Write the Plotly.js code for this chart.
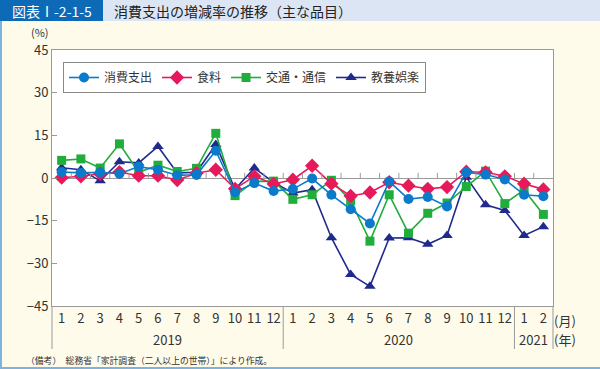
<!DOCTYPE html>
<html>
<head>
<meta charset="utf-8">
<script src="https://cdn.plot.ly/plotly-3.0.1.min.js"></script>
<style>
html,body{margin:0;padding:0;background:#fefbea;}
#chart{width:600px;height:369px;}
</style>
</head>
<body>
<div id="chart"></div>
<script>
// ---- data ----
const months = ['1','2','3','4','5','6','7','8','9','10','11','12','1','2','3','4','5','6','7','8','9','10','11','12','1','2'];
const years = ['2019','2020','2021'];
const yearStart = [0, 12, 24];
const yearEnd = [11, 23, 25];
const seriesNames = ['消費支出','食料','交通・通信','教養娯楽'];
const consumption = [2.1, 1.8, 2.0, 1.5, 4.0, 2.9, 1.0, 1.1, 9.6, -5.0, -1.8, -4.6, -3.9, -0.2, -5.9, -11.0, -16.0, -1.2, -7.4, -6.7, -10.0, 2.0, 1.2, -0.5, -5.9, -6.4];
const food = [0.1, 0.6, 1.5, 2.1, 0.8, 0.8, -0.7, 1.7, 2.9, -3.8, 0.6, -2.1, -0.6, 4.3, -2.0, -6.3, -5.1, -1.5, -2.7, -3.8, -3.2, 2.2, 2.0, 0.6, -2.0, -4.0];
const transport = [6.2, 6.7, 3.5, 12.0, 2.0, 4.5, 2.3, 3.4, 15.7, -6.2, -1.2, -1.1, -7.5, -5.9, -0.8, -8.0, -22.2, -5.9, -19.4, -12.4, -8.8, -3.0, 2.4, -9.0, -4.2, -12.8];
const culture = [3.6, 2.9, -1.0, 5.7, 5.3, 11.1, 1.8, 2.0, 11.8, -4.0, 3.5, -1.5, -5.3, -4.1, -21.0, -33.9, -38.1, -21.1, -21.0, -23.3, -20.2, 0.3, -9.4, -11.4, -20.2, -17.1];

// ---- layout helpers ----
const W = 600, H = 369, ML = 52, MR = 47, MT = 50, MB = 63;
const PW = W - ML - MR, PH = H - MT - MB;
const X = px => (px - ML) / PW;
const Y = py => (H - MB - py) / PH;
const FONT = '"Noto Sans CJK JP", "Noto Sans", sans-serif';
const idx = months.map((m, i) => i);

const colors = {c:'#0b7acb', f:'#e61a5b', t:'#20ad3b', u:'#1f2a8c'};

function tr(name, y, color, symbol, size, rank){
  return {x: idx, y: y, name: name, type:'scatter', mode:'lines+markers',
    line:{color:color, width:1.6},
    marker:{color:color, symbol:symbol, size:size, line:{width:0}},
    legendrank: rank};
}
const data = [
  tr(seriesNames[3], culture, colors.u, 'triangle-up', 10, 4),
  tr(seriesNames[2], transport, colors.t, 'square', 9, 3),
  tr(seriesNames[1], food, colors.f, 'diamond', 11, 2),
  tr(seriesNames[0], consumption, colors.c, 'circle', 10, 1)
];

const shapes = [];
// header
shapes.push({type:'rect', xref:'paper', yref:'paper', x0:X(0), x1:X(103), y0:Y(0), y1:Y(21), fillcolor:'#0d6ab7', line:{width:0}, layer:'below'});
shapes.push({type:'rect', xref:'paper', yref:'paper', x0:X(103), x1:X(600), y0:Y(0), y1:Y(21), fillcolor:'#dbe5f3', line:{width:0}, layer:'below'});
// frame borders
shapes.push({type:'line', xref:'paper', yref:'paper', x0:X(1), x1:X(1), y0:Y(21), y1:Y(369), line:{color:'#7eb3df', width:2}});
shapes.push({type:'line', xref:'paper', yref:'paper', x0:X(0), x1:X(600), y0:Y(368), y1:Y(368), line:{color:'#7eb3df', width:2}});
// zero-line ticks at category boundaries
for (let k = 0; k < months.length - 1; k++) {
  shapes.push({type:'line', xref:'x', yref:'y', x0:k+0.5, x1:k+0.5, y0:0, y1:1.8, line:{color:'#9a9a9a', width:1}});
}
// vertical separators below x axis
const gy0 = 0, gy1 = Y(349);
shapes.push({type:'line', xref:'paper', yref:'paper', x0:0, x1:0, y0:gy0, y1:gy1, line:{color:'#9a9a9a', width:1}});
shapes.push({type:'line', xref:'paper', yref:'paper', x0:1, x1:1, y0:gy0, y1:gy1, line:{color:'#9a9a9a', width:1}});
for (let j = 1; j < years.length; j++) {
  shapes.push({type:'line', xref:'x', yref:'paper', x0:yearStart[j]-0.5, x1:yearStart[j]-0.5, y0:gy0, y1:gy1, line:{color:'#9a9a9a', width:1}});
}

const annotations = [];
annotations.push({xref:'paper', yref:'paper', x:X(52), y:Y(10.5), text:'図表Ⅰ-2-1-5', showarrow:false, xanchor:'center', yanchor:'middle', font:{family:FONT, size:14, color:'#ffffff'}});
annotations.push({xref:'paper', yref:'paper', x:X(112), y:Y(10.5), text:'消費支出の増減率の推移（主な品目）', showarrow:false, xanchor:'left', yanchor:'middle', font:{family:FONT, size:14, color:'#222222'}});
annotations.push({xref:'paper', yref:'paper', x:X(40), y:Y(32), text:'(%)', showarrow:false, xanchor:'center', yanchor:'middle', font:{family:FONT, size:11, color:'#333333'}});
for (let j = 0; j < years.length; j++) {
  annotations.push({xref:'x', yref:'paper', x:(yearStart[j]+yearEnd[j])/2, y:Y(339), text:years[j], showarrow:false, xanchor:'center', yanchor:'middle', font:{family:FONT, size:13, color:'#333333'}});
}
annotations.push({xref:'paper', yref:'paper', x:X(565), y:Y(320), text:'(月)', showarrow:false, xanchor:'center', yanchor:'middle', font:{family:FONT, size:13, color:'#333333'}});
annotations.push({xref:'paper', yref:'paper', x:X(565), y:Y(339), text:'(年)', showarrow:false, xanchor:'center', yanchor:'middle', font:{family:FONT, size:13, color:'#333333'}});
annotations.push({xref:'paper', yref:'paper', x:X(24), y:Y(360), text:'（備考）　総務省「家計調査（二人以上の世帯）」により作成。', showarrow:false, xanchor:'left', yanchor:'middle', font:{family:FONT, size:8.8, color:'#333333'}});

const layout = {
  width: W, height: H,
  margin: {l:ML, r:MR, t:MT, b:MB, pad:0},
  paper_bgcolor:'#fefbea', plot_bgcolor:'#ffffff',
  font:{family:FONT, size:13, color:'#333333'},
  showlegend:true,
  legend:{orientation:'h', x:X(63), y:Y(62), xanchor:'left', yanchor:'top',
    bgcolor:'#ffffff', bordercolor:'#8a8a8a', borderwidth:1,
    font:{family:FONT, size:12, color:'#333333'}, itemwidth:30, tracegroupgap:0},
  xaxis:{range:[-0.5, months.length-0.5], tickmode:'array', tickvals:idx, ticktext:months,
    showline:true, mirror:true, linecolor:'#9a9a9a', linewidth:1, ticks:'', showgrid:false, zeroline:false,
    tickfont:{family:FONT, size:13, color:'#333333'}, fixedrange:true},
  yaxis:{range:[-45,45], tickmode:'array', tickvals:[-45,-30,-15,0,15,30,45],
    showline:true, mirror:true, linecolor:'#9a9a9a', linewidth:1, ticks:'inside', ticklen:5, tickcolor:'#9a9a9a',
    showgrid:false, zeroline:true, zerolinecolor:'#9a9a9a', zerolinewidth:1,
    tickfont:{family:FONT, size:13, color:'#333333'}, fixedrange:true},
  shapes: shapes,
  annotations: annotations
};
Plotly.newPlot('chart', data, layout, {displayModeBar:false, staticPlot:true});
</script>
</body>
</html>
